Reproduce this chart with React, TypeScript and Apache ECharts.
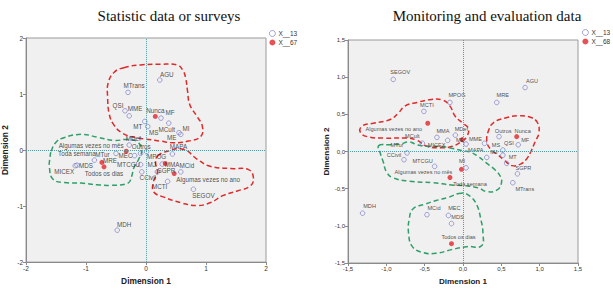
import React, { useEffect, useRef } from 'react';
import * as echarts from 'echarts';

// ---- Statistic data or surveys (left panel) ----
const LEFT_ORGS = ['AGU', 'MTrans', 'QSI', 'MME', 'MF', 'MT', 'MS', 'MCult', 'MI', 'ME', 'MDef', 'MAPA', 'MTur', 'MDS', 'MICEX', 'MRE', 'MEC', 'MPOG', 'MTCGU', 'MJ', 'CCivil', 'MMA', 'SGPR', 'MCid', 'MCTI', 'SEGOV', 'MDH'];
const LEFT_ORG_X = [0.23, -0.30, -0.35, -0.28, 0.25, -0.02, 0.03, 0.38, 0.55, 0.58, -0.28, 0.44, -0.86, -1.15, -1.18, -0.50, -0.19, 0.01, -0.09, -0.09, -0.07, 0.27, 0.19, 0.58, 0.36, 0.79, -0.48];
const LEFT_ORG_Y = [1.25, 1.03, 0.70, 0.61, 0.57, 0.51, 0.42, 0.48, 0.31, 0.28, 0.09, -0.07, -0.18, -0.27, -0.28, -0.06, -0.10, -0.03, -0.06, -0.26, -0.39, -0.25, -0.39, -0.39, -0.56, -0.70, -1.43];

const LEFT_CATS = ['Nunca', 'Outros', 'Algumas vezes no mês', 'Toda semana', 'Todos os dias', 'Algumas vezes no ano'];
const LEFT_CAT_X = [0.155, 0.32, -0.33, -0.735, -0.70, 0.47];
const LEFT_CAT_Y = [0.60, -0.24, -0.02, -0.22, -0.30, -0.42];

// ---- Monitoring and evaluation data (right panel) ----
const RIGHT_ORGS = ['SEGOV', 'MPOG', 'MCTI', 'AGU', 'MRE', 'MMA', 'MDef', 'MICEX', 'ME', 'MME', 'MCult', 'MTur', 'CCivil', 'MTCGU', 'MAPA', 'MS', 'QSI', 'MJ', 'MF', 'MT', 'SGPR', 'MTrans', 'MI', 'MDH', 'MCid', 'MEC', 'MDS'];
const RIGHT_ORG_X = [-0.91, -0.17, -0.51, 0.81, 0.44, -0.34, -0.10, -0.20, 0.04, 0.28, -0.53, -0.73, -0.77, -0.37, 0.31, 0.47, 0.52, 0.52, 0.72, 0.57, 0.71, 0.65, 0.04, -1.31, -0.47, -0.19, -0.15];
const RIGHT_ORG_Y = [0.97, 0.66, 0.54, 0.86, 0.66, 0.19, 0.22, 0.15, 0.10, 0.11, 0.11, -0.02, -0.11, -0.20, -0.08, 0.20, 0.02, -0.05, 0.09, -0.16, -0.30, -0.42, -0.22, -0.83, -0.85, -0.86, -0.97];

const RIGHT_CATS = ['Algumas vezes no ano', 'Outros', 'Nunca', 'Algumas vezes no mês', 'Toda semana', 'Todos os dias'];
const RIGHT_CAT_X = [-0.46, -0.01, 0.70, -0.02, -0.17, -0.15];
const RIGHT_CAT_Y = [0.38, 0.16, 0.20, -0.24, -0.35, -1.24];

// Hand-drawn group outlines, in dimension units
const LEFT_RED_TOP: [number, number][] = [[-0.37, 1.47], [-0.09, 1.52], [0.24, 1.53], [0.52, 1.52], [0.61, 1.43], [0.66, 1.29], [0.69, 1.07], [0.73, 0.81], [0.85, 0.60], [0.94, 0.42], [0.91, 0.24], [0.71, 0.16], [0.46, 0.13], [0.24, 0.16], [0.04, 0.19], [-0.17, 0.22], [-0.39, 0.30], [-0.53, 0.44], [-0.61, 0.63], [-0.64, 0.95], [-0.63, 1.20], [-0.53, 1.39]];
const LEFT_RED_BOTTOM: [number, number][] = [[0.19, -0.11], [0.36, -0.02], [0.63, 0.01], [0.85, -0.16], [1.07, -0.29], [1.41, -0.33], [1.71, -0.35], [1.79, -0.49], [1.74, -0.64], [1.52, -0.73], [1.29, -0.81], [1.07, -0.94], [0.85, -0.99], [0.58, -0.94], [0.30, -0.84], [0.13, -0.75], [0.12, -0.58], [0.19, -0.40], [0.16, -0.22]];
const LEFT_GREEN: [number, number][] = [[-1.58, -0.02], [-1.50, 0.14], [-1.37, 0.22], [-1.08, 0.28], [-0.81, 0.23], [-0.53, 0.17], [-0.31, 0.19], [-0.15, 0.15], [-0.07, 0.01], [-0.12, -0.16], [-0.20, -0.31], [-0.24, -0.47], [-0.30, -0.59], [-0.59, -0.63], [-0.81, -0.62], [-1.08, -0.59], [-1.36, -0.58], [-1.55, -0.52], [-1.61, -0.31], [-1.60, -0.13]];

const RIGHT_RED_LEFT: [number, number][] = [[-1.34, 0.26], [-1.32, 0.34], [-1.17, 0.38], [-0.95, 0.43], [-0.84, 0.52], [-0.76, 0.61], [-0.60, 0.66], [-0.41, 0.70], [-0.26, 0.69], [-0.17, 0.61], [-0.10, 0.47], [0.00, 0.38], [0.07, 0.31], [0.05, 0.20], [-0.01, 0.14], [-0.14, 0.07], [-0.30, 0.05], [-0.47, 0.07], [-0.60, 0.15], [-0.73, 0.18], [-1.04, 0.18], [-1.25, 0.20]];
const RIGHT_RED_RIGHT: [number, number][] = [[0.31, 0.14], [0.34, 0.30], [0.40, 0.39], [0.55, 0.45], [0.72, 0.48], [0.88, 0.46], [0.97, 0.39], [0.99, 0.25], [0.94, 0.13], [0.89, 0.01], [0.83, -0.10], [0.75, -0.17], [0.64, -0.19], [0.54, -0.12], [0.45, -0.04], [0.36, 0.03]];
const RIGHT_GREEN_TOP: [number, number][] = [[-1.10, 0.08], [-0.95, 0.09], [-0.82, 0.10], [-0.70, 0.13], [-0.60, 0.09], [-0.47, 0.07], [-0.30, 0.07], [-0.13, 0.04], [0.00, 0.01], [0.10, -0.01], [0.20, -0.07], [0.30, -0.15], [0.42, -0.25], [0.49, -0.34], [0.50, -0.43], [0.44, -0.52], [0.31, -0.54], [0.20, -0.49], [0.02, -0.46], [-0.15, -0.45], [-0.40, -0.42], [-0.70, -0.40], [-0.92, -0.35], [-1.00, -0.27], [-1.04, -0.14], [-1.08, -0.02]];
const RIGHT_GREEN_BOTTOM: [number, number][] = [[-0.02, -0.56], [-0.20, -0.62], [-0.35, -0.66], [-0.50, -0.71], [-0.65, -0.77], [-0.70, -0.90], [-0.71, -1.10], [-0.66, -1.28], [-0.52, -1.36], [-0.35, -1.37], [-0.15, -1.32], [0.05, -1.28], [0.24, -1.27], [0.26, -1.10], [0.23, -0.90], [0.18, -0.72], [0.09, -0.60]];

// Label centre relative to its marker, in px
const LEFT_ORG_LABEL_POS: Record<string, [number, number]> = {
  AGU: [7, -6], MTrans: [6, -7], QSI: [-7, -5], MME: [6, -7], MF: [9, -6], MT: [-7, 5], MS: [6, 6],
  MCult: [-2, 6], MI: [7, -4], ME: [-9, 3], MDef: [4, -7], MAPA: [6, -7], MTur: [8, -6], MDS: [9, 0],
  MICEX: [-11, 6], MRE: [-6, 7], MEC: [-9, 0], MPOG: [10, 5], MTCGU: [-12, 11], MJ: [11, 0],
  CCivil: [6, 6], MMA: [10, 0], SGPR: [9, -1], MCid: [6, -6], MCTI: [-8, 5], SEGOV: [10, 6], MDH: [7, -6],
};
const LEFT_CAT_LABEL_POS: Record<string, [number, number]> = {
  Nunca: [0, -6], Outros: [-24, -17], 'Algumas vezes no mês': [-35, -6], 'Toda semana': [-25, -9],
  'Todos os dias': [0, 7], 'Algumas vezes no ano': [34, 6],
};
const RIGHT_ORG_LABEL_POS: Record<string, [number, number]> = {
  SEGOV: [7, -7], MPOG: [7, -7], MCTI: [3, -6], AGU: [7, -7], MRE: [6, -7], MMA: [6, -6], MDef: [6, -6],
  MICEX: [-11, 5], ME: [-6, -4], MME: [-9, -4], MCult: [-10, -7], MTur: [-10, -8], CCivil: [-10, -5],
  MTCGU: [-12, -5], MAPA: [-11, -7], MS: [-3, 8], QSI: [6, -7], MJ: [-9, -3], MF: [7, -5], MT: [6, -6],
  SGPR: [6, -6], MTrans: [12, 6], MI: [-4, -7], MDH: [7, -7], MCid: [7, -7], MEC: [6, -7], MDS: [6, -7],
};
const RIGHT_CAT_LABEL_POS: Record<string, [number, number]> = {
  'Algumas vezes no ano': [-34, 6], Outros: [41, -9], Nunca: [6, -6], 'Algumas vezes no mês': [-38, 3],
  'Toda semana': [20, 6], 'Todos os dias': [7, -7],
};

const SANS = '"Liberation Sans", Arial, sans-serif';
const SERIF = '"Liberation Serif", "Times New Roman", serif';
const ORG_COLOR = '#6f72c2';
const CAT_COLOR = '#e2252b';
const RED_LINE = '#de2a2a';
const GREEN_LINE = '#2f9e6a';
const REF_LINE = '#4aa3a8';

function points(names: string[], xs: number[], ys: number[], pos: Record<string, [number, number]>) {
  return names.map((n, i) => ({
    name: n,
    value: [xs[i], ys[i]],
    label: { offset: pos[n] || [6, -6] },
  }));
}

function outlineSeries(idx: number, shapes: { pts: [number, number][]; color: string }[]) {
  return {
    type: 'custom',
    coordinateSystem: 'cartesian2d',
    xAxisIndex: idx,
    yAxisIndex: idx,
    silent: true,
    z: 1,
    data: shapes.map(() => [0, 0]),
    renderItem: (params: any, api: any) => {
      const s = shapes[params.dataIndex];
      return {
        type: 'polygon',
        shape: { points: s.pts.map((p) => api.coord(p)), smooth: 0.45 },
        style: { fill: 'none', stroke: s.color, lineWidth: 1.5, lineDash: [5, 3] },
      };
    },
  };
}

function scatter(name: string, idx: number, data: any[], filled: boolean, fontSize: number, withRef: boolean) {
  const s: any = {
    name,
    type: 'scatter',
    xAxisIndex: idx,
    yAxisIndex: idx,
    symbol: 'circle',
    symbolSize: filled ? 5 : 4.6,
    z: 3,
    itemStyle: filled
      ? { color: CAT_COLOR }
      : { color: 'rgba(255,255,255,0)', borderColor: ORG_COLOR, borderWidth: 0.8 },
    label: {
      show: true,
      formatter: '{b}',
      position: 'inside',
      align: 'center',
      verticalAlign: 'middle',
      fontSize,
      fontFamily: SANS,
      color: '#222',
    },
    data,
  };
  if (withRef) {
    s.markLine = {
      silent: true,
      symbol: 'none',
      label: { show: false },
      lineStyle: { type: 'dotted', color: REF_LINE, width: 1 },
      data: [{ xAxis: 0 }, { yAxis: 0 }],
    };
  }
  return s;
}

function axis(idx: number, min: number, max: number, interval: number, name: string, vertical: boolean, fontSize: number, fmt: (v: number) => string) {
  return {
    gridIndex: idx,
    type: 'value',
    min,
    max,
    interval,
    name,
    nameLocation: 'middle',
    nameGap: vertical ? 17 : 14,
    nameTextStyle: { fontFamily: SANS, fontWeight: 'bold', fontSize: idx === 0 ? 8.4 : 8.1, color: '#222' },
    axisLine: { show: true, onZero: false, lineStyle: { color: '#8a8a8a', width: 1 } },
    axisTick: { show: true, length: 3, lineStyle: { color: '#8a8a8a' } },
    axisLabel: { fontSize, fontFamily: SANS, color: '#333', margin: 3, formatter: fmt },
    splitLine: { show: false },
  };
}

const intFmt = (v: number) => String(v);
const commaFmt = (v: number) => v.toFixed(1).replace('.', ',');

const legendBase = {
  orient: 'vertical',
  padding: 0,
  itemWidth: 6,
  itemHeight: 6,
  itemGap: 2,
  textStyle: { fontSize: 6.5, fontFamily: SANS, color: '#333', padding: [0, 0, 0, -2] },
};
const orgLegendItem = { name: 'X__13', itemStyle: { borderWidth: 0.8 } };

export default function App() {
  const ref = useRef<HTMLDivElement>(null);

  useEffect(() => {
    if (!ref.current) return;
    const chart = echarts.init(ref.current, undefined, { renderer: 'svg' });
    chart.setOption({
      animation: false,
      backgroundColor: '#ffffff',
      title: [
        { text: 'Statistic data or surveys', left: 164, top: 3, textAlign: 'center', textStyle: { fontFamily: SERIF, fontWeight: 'normal', fontSize: 15, color: '#111' } },
        { text: 'Monitoring and evaluation data', left: 482, top: 3, textAlign: 'center', textStyle: { fontFamily: SERIF, fontWeight: 'normal', fontSize: 15, color: '#111' } },
      ],
      legend: [
        { ...legendBase, data: [orgLegendItem, 'X__67'], left: 269, top: 30 },
        { ...legendBase, data: [orgLegendItem, 'X__68'], left: 582, top: 29 },
      ],
      grid: [
        { left: 25, top: 38, width: 241, height: 226, show: true, backgroundColor: '#f0f0f0', borderColor: '#9a9a9a', borderWidth: 1 },
        { left: 348, top: 40, width: 230, height: 226, show: true, backgroundColor: '#f0f0f0', borderColor: '#9a9a9a', borderWidth: 1 },
      ],
      xAxis: [
        axis(0, -2, 2, 1, 'Dimension 1', false, 6.5, intFmt),
        axis(1, -1.5, 1.5, 0.5, 'Dimension 1', false, 6, commaFmt),
      ],
      yAxis: [
        axis(0, -2, 2, 1, 'Dimension 2', true, 6.5, intFmt),
        axis(1, -1.5, 1.5, 0.5, 'Dimension 2', true, 6, commaFmt),
      ],
      series: [
        outlineSeries(0, [
          { pts: LEFT_RED_TOP, color: RED_LINE },
          { pts: LEFT_RED_BOTTOM, color: RED_LINE },
          { pts: LEFT_GREEN, color: GREEN_LINE },
        ]),
        outlineSeries(1, [
          { pts: RIGHT_RED_LEFT, color: RED_LINE },
          { pts: RIGHT_RED_RIGHT, color: RED_LINE },
          { pts: RIGHT_GREEN_TOP, color: GREEN_LINE },
          { pts: RIGHT_GREEN_BOTTOM, color: GREEN_LINE },
        ]),
        scatter('X__13', 0, points(LEFT_ORGS, LEFT_ORG_X, LEFT_ORG_Y, LEFT_ORG_LABEL_POS), false, 6.3, true),
        scatter('X__67', 0, points(LEFT_CATS, LEFT_CAT_X, LEFT_CAT_Y, LEFT_CAT_LABEL_POS), true, 6.3, false),
        scatter('X__13', 1, points(RIGHT_ORGS, RIGHT_ORG_X, RIGHT_ORG_Y, RIGHT_ORG_LABEL_POS), false, 5.6, true),
        scatter('X__68', 1, points(RIGHT_CATS, RIGHT_CAT_X, RIGHT_CAT_Y, RIGHT_CAT_LABEL_POS), true, 5.6, false),
      ],
    });
    return () => chart.dispose();
  }, []);

  return <div ref={ref} style={{ position: 'fixed', left: 0, top: 0, width: 613, height: 290 }} />;
}
